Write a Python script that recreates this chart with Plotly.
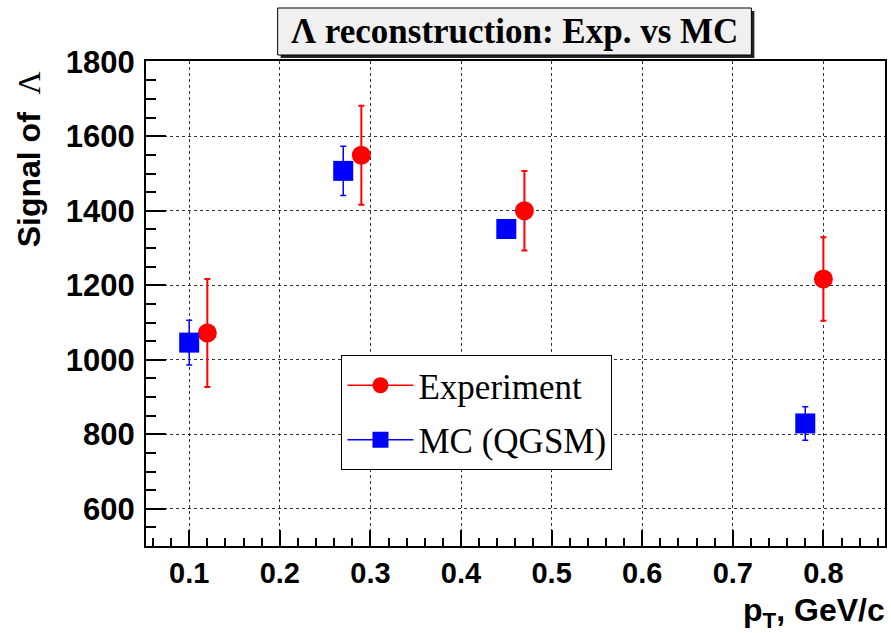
import plotly.graph_objects as go

# Data
exp_x = [0.12, 0.29, 0.47, 0.80]
exp_y = [1072, 1549, 1400, 1217]
exp_err = [145, 133, 107, 112]

mc_x = [0.10, 0.27, 0.45, 0.78]
mc_y = [1046, 1507, 1351, 829]
mc_err = [60, 66, 22, 45]

x_ticks = [0.1, 0.2, 0.3, 0.4, 0.5, 0.6, 0.7, 0.8]
y_ticks = [600, 800, 1000, 1200, 1400, 1600, 1800]

W, H = 891, 633
L, R, T, B = 146, 4, 61, 87
PW, PH = W - L - R, H - T - B


def px(x):
    return (x - L) / PW


def py(y):
    return (H - B - y) / PH


RED = "#ff0000"
BLUE = "#0000ff"

fig = go.Figure()
fig.add_trace(go.Scatter(
    x=exp_x, y=exp_y, mode="markers", showlegend=False,
    marker=dict(symbol="circle", size=19, color=RED, line=dict(width=0)),
    error_y=dict(type="data", array=exp_err, color=RED, thickness=2, width=3),
))
fig.add_trace(go.Scatter(
    x=mc_x, y=mc_y, mode="markers", showlegend=False,
    marker=dict(symbol="square", size=20, color=BLUE, line=dict(width=0)),
    error_y=dict(type="data", array=mc_err, color=BLUE, thickness=1.5, width=3),
))
# legend entries
fig.add_trace(go.Scatter(
    x=[None], y=[None], mode="lines+markers", name="Experiment", legendgroup="a",
    marker=dict(symbol="circle", size=19, color=RED), line=dict(color=RED, width=1.5),
))
fig.add_trace(go.Scatter(
    x=[None], y=[None], mode="lines+markers", name="MC (QGSM)", legendgroup="b",
    marker=dict(symbol="square", size=20, color=BLUE), line=dict(color=BLUE, width=1.5),
))

axis_common = dict(
    showline=True, linewidth=2, linecolor="black", mirror=True,
    ticks="inside", tickcolor="black", tickwidth=1.5,
    showgrid=True, gridcolor="#333333", griddash="dot", gridwidth=1,
    zeroline=False,
)

fig.update_xaxes(
    range=[0.0523, 0.868], tickmode="array", tickvals=x_ticks,
    ticktext=[f"{v:.1f}" for v in x_ticks], ticklen=16, ticklabelstandoff=0,
    tickfont=dict(family="Liberation Sans", size=29, color="black", weight="bold"),
    minor=dict(dtick=0.02, tick0=0, ticks="inside", ticklen=8, tickcolor="black", tickwidth=1.5, showgrid=False),
    **axis_common,
)
fig.update_yaxes(
    range=[500, 1802], tickmode="array", tickvals=y_ticks,
    ticktext=[str(v) for v in y_ticks], ticklen=20, ticklabelstandoff=3,
    tickfont=dict(family="Liberation Sans", size=31, color="black", weight="bold"),
    minor=dict(dtick=50, tick0=0, ticks="inside", ticklen=10, tickcolor="black", tickwidth=1.5, showgrid=False),
    **axis_common,
)

shapes = [
    # title box shadow
    dict(type="rect", xref="paper", yref="paper", layer="below",
         x0=px(281), x1=px(756), y0=py(58), y1=py(11),
         fillcolor="#222222", line=dict(width=0)),
    # title box
    dict(type="rect", xref="paper", yref="paper", layer="below",
         x0=px(278), x1=px(753), y0=py(55), y1=py(8),
         fillcolor="#f0f0f0", line=dict(color="black", width=1)),
]

annotations = [
    dict(text="<b>Λ reconstruction: Exp. vs MC</b>", xref="paper", yref="paper",
         x=px(515.5), y=py(32), xanchor="center", yanchor="middle", showarrow=False,
         font=dict(family="Liberation Serif", size=35, color="black")),
    dict(text="<b>Signal of</b>  <span style='font-family:Liberation Serif'>Λ</span>",
         xref="paper", yref="paper", x=px(29), y=py(159), xanchor="center", yanchor="middle",
         textangle=-90, showarrow=False,
         font=dict(family="Liberation Sans", size=32, color="black")),
    dict(text="<b>p<sub>T</sub>, GeV/c</b>", xref="paper", yref="paper",
         x=px(889), y=py(612), xanchor="right", yanchor="middle", showarrow=False,
         font=dict(family="Liberation Sans", size=32, color="black")),
]

fig.update_layout(
    width=W, height=H,
    margin=dict(l=L, r=R, t=T, b=B, pad=0),
    paper_bgcolor="white", plot_bgcolor="white",
    shapes=shapes, annotations=annotations,
    legend=dict(
        x=px(342), y=py(355), xanchor="left", yanchor="top",
        bgcolor="white", bordercolor="black", borderwidth=1,
        font=dict(family="Liberation Serif", size=35, color="black"),
        traceorder="grouped", tracegroupgap=6, itemwidth=66,
    ),
)

fig.write_html("out.html")
